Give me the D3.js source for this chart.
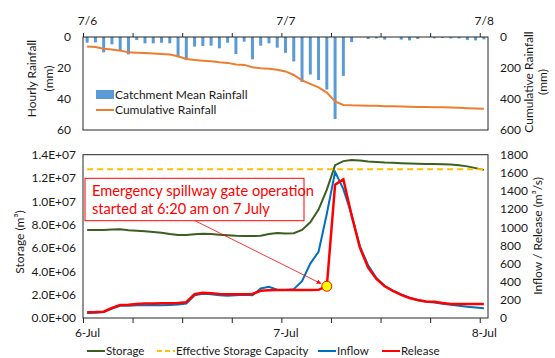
<!DOCTYPE html>
<html><head><meta charset="utf-8">
<script src="https://cdn.jsdelivr.net/npm/d3@7"></script>
<style>
body{margin:0;background:#fff;}
svg{font-family:Lato,"Open Sans",sans-serif;}
</style></head><body>
<svg id="c" width="555" height="358"></svg>
<script>
// ---------- data ----------
const topDayLabels = ["7/6","7/7","7/8"];
const bottomDayLabels = ["6-Jul","7-Jul","8-Jul"];
const rainTicks = [0,20,40,60];
const cumTicks = [0,200,400,600];
const storageTicks = [0,2e6,4e6,6e6,8e6,1e7,1.2e7,1.4e7];
const flowTicks = [0,200,400,600,800,1000,1200,1400,1600,1800];
// hourly values, 7/6 00:30 ... 7/8 00:30
const hourlyRain = [3.7,3.5,9.9,4.7,8.8,11.2,1.9,4.1,4.1,3.7,4.1,13.1,14.8,6.2,5.8,5.6,7.3,3.7,11,3,14.4,5.6,4.1,6.9,
  10.2,15.8,29,24.2,27.8,33.9,52.9,25.1,3.3,0,1.3,0.9,1.7,0,1.7,2.2,1.3,0,0.9,0.6,0.9,0.9,1.9,2.2,1.5];
const cumRain = [62,65,76,80,88,99,101,104,107,110,113,124,142,148,153,157,163,167,177,180,195,201,205,212,
  222,245,280,302,325,359,415,438,441,442,443,444,446,447,448,450,451,452,453,454,455,457,459,461,463];
const storage = [7.55e6,7.55e6,7.55e6,7.58e6,7.6e6,7.52e6,7.48e6,7.43e6,7.38e6,7.3e6,7.2e6,7.12e6,7.12e6,7.18e6,7.23e6,7.2e6,7.14e6,7.1e6,7.05e6,7.03e6,7.02e6,7.05e6,7.2e6,7.28e6,
  7.25e6,7.27e6,7.55e6,8.2e6,9.3e6,1.1e7,1.31e7,1.345e7,1.355e7,1.35e7,1.342e7,1.338e7,1.333e7,1.33e7,1.327e7,1.325e7,1.322e7,1.32e7,1.32e7,1.318e7,1.315e7,1.31e7,1.3e7,1.285e7,1.27e7];
const inflow = [55,58,65,105,135,135,140,140,142,140,143,148,160,250,268,262,250,245,250,255,250,325,345,312,
  308,318,405,600,730,1150,1610,1420,1140,790,580,440,355,300,260,225,195,180,170,157,147,135,125,115,107];
const release = [63,65,70,110,143,145,155,160,160,162,162,165,175,262,278,272,265,262,262,262,265,300,305,308,
  308,308,308,308,310,350,1470,1530,1130,775,555,430,350,300,255,220,198,183,178,165,155,154,154,154,154];
const capacity = 1.275e7;
const gateIndex = 29; // 7/7 06:20 release start

// ---------- layout ----------
const svg = d3.select("#c");
const L = 83, R = 488;
const t0 = new Date(2018,6,6,0,0), t1 = new Date(2018,6,8,1,0);
const times = hourlyRain.map((d,i)=>new Date(2018,6,6,0,30+60*i));
const x = d3.scaleTime().domain([t0,t1]).range([L,R]);
const dayTicks = d3.timeHour.every(6).range(t0, t1);

const TT = 37, TB = 130;
const yRain = d3.scaleLinear().domain([0,60]).range([TT,TB]);
const yCum = d3.scaleLinear().domain([0,600]).range([TT,TB]);
const BT = 154.7, BB = 318;
const yS = d3.scaleLinear().domain([0,1.4e7]).range([BB,BT]);
const yF = d3.scaleLinear().domain([0,1800]).range([BB,BT]);

const txt = "#1a1a1a", axc = "#262626";
const fs = "12px";

function dayFmt(labels){ return d=>{ if(d.getHours()!==0) return ""; return labels[d.getDate()-6]||""; }; }
function sci(v){ if(v===0) return "0.0E+00"; const e=Math.floor(Math.log10(v)); const m=v/Math.pow(10,e); return m.toFixed(1)+"E+"+String(e).padStart(2,"0"); }

function styleAxis(g){ g.select(".domain").remove(); g.selectAll("line").attr("stroke",axc); g.selectAll("text").attr("fill",txt).style("font-size",fs).style("font-family","Lato"); }

// ---------- top panel ----------
svg.append("g").selectAll("rect").data(hourlyRain).join("rect")
  .attr("x",(d,i)=>x(times[i])-1.5).attr("width",3)
  .attr("y",TT).attr("height",d=>yRain(d)-TT).attr("fill","#5B9BD5");
svg.append("path").datum(cumRain).attr("fill","none").attr("stroke","#ED7D31").attr("stroke-width",2)
  .attr("d",d3.line().x((d,i)=>x(times[i])).y(d=>yCum(d)));
svg.append("rect").attr("x",L).attr("y",TT).attr("width",R-L).attr("height",TB-TT).attr("fill","none").attr("stroke",axc).attr("stroke-width",1);
svg.append("g").attr("transform",`translate(0,${TT})`)
  .call(d3.axisTop(x).tickValues(dayTicks).tickSize(4).tickPadding(8).tickFormat(dayFmt(topDayLabels)))
  .call(styleAxis).selectAll("text").attr("dx",4);
svg.append("g").attr("transform",`translate(${L},0)`)
  .call(d3.axisLeft(yRain).tickValues(rainTicks).tickSize(0).tickPadding(12)).call(styleAxis);
svg.append("g").attr("transform",`translate(${R},0)`)
  .call(d3.axisRight(yCum).tickValues(cumTicks).tickSize(0).tickPadding(12)).call(styleAxis);

function vtitle(x0,y0,s){ svg.append("text").attr("transform",`translate(${x0},${y0}) rotate(-90)`)
  .attr("text-anchor","middle").attr("dy","0.35em").attr("fill",txt).style("font-size",fs).text(s); }
vtitle(32,78.5,"Hourly Rainfall"); vtitle(49,78.5,"(mm)");
vtitle(529,82,"Cumulative Rainfall"); vtitle(543,82,"(mm)");

// top legend
svg.append("rect").attr("x",96).attr("y",90).attr("width",18).attr("height",9).attr("fill","#5B9BD5");
svg.append("text").attr("x",115).attr("y",94.5).attr("dy","0.35em").attr("fill",txt).style("font-size",fs).text("Catchment Mean Rainfall");
svg.append("line").attr("x1",96).attr("x2",114).attr("y1",110).attr("y2",110).attr("stroke","#ED7D31").attr("stroke-width",2);
svg.append("text").attr("x",115).attr("y",110).attr("dy","0.35em").attr("fill",txt).style("font-size",fs).text("Cumulative Rainfall");

// ---------- bottom panel ----------
const lineS = d3.line().x((d,i)=>x(times[i])).y(d=>yS(d));
const lineF = d3.line().x((d,i)=>x(times[i])).y(d=>yF(d));
svg.append("path").datum(storage).attr("fill","none").attr("stroke","#3B5E21").attr("stroke-width",2).attr("d",lineS);
svg.append("line").attr("x1",x(times[0])).attr("x2",x(times[times.length-1])).attr("y1",yS(capacity)).attr("y2",yS(capacity))
  .attr("stroke","#FFC000").attr("stroke-width",2).attr("stroke-dasharray","6,4");
svg.append("path").datum(inflow).attr("fill","none").attr("stroke","#0070C0").attr("stroke-width",2).attr("d",lineF);
svg.append("path").datum(release).attr("fill","none").attr("stroke","#FF0000").attr("stroke-width",2.5).attr("d",lineF);
svg.append("rect").attr("x",L).attr("y",BT).attr("width",R-L).attr("height",BB-BT).attr("fill","none").attr("stroke",axc).attr("stroke-width",1);
svg.append("g").attr("transform",`translate(0,${BB})`)
  .call(d3.axisBottom(x).tickValues(dayTicks).tickSize(5).tickPadding(5).tickFormat(dayFmt(bottomDayLabels)))
  .call(styleAxis).selectAll("text").attr("dx",4);
svg.append("g").attr("transform",`translate(${L},0)`)
  .call(d3.axisLeft(yS).tickValues(storageTicks).tickSize(0).tickPadding(7).tickFormat(sci)).call(styleAxis);
svg.append("g").attr("transform",`translate(${R},0)`)
  .call(d3.axisRight(yF).tickValues(flowTicks).tickSize(0).tickPadding(12).tickFormat(d3.format("d"))).call(styleAxis);
vtitle(20,242,"Storage (m³)");
vtitle(538,236,"Inflow / Release (m³/s)");

// annotation
const gx = x(times[gateIndex]), gy = yF(release[gateIndex]);
svg.append("defs").append("marker").attr("id","ah").attr("viewBox","0 0 10 10").attr("refX",10).attr("refY",5)
  .attr("markerWidth",6).attr("markerHeight",6).attr("orient","auto")
  .append("path").attr("d","M0,0L10,5L0,10z").attr("fill","#FF0000");
svg.append("line").attr("x1",195).attr("y1",220.7).attr("x2",gx-5.5).attr("y2",gy-2.5)
  .attr("stroke","#FF0000").attr("stroke-width",0.8).attr("marker-end","url(#ah)");
svg.append("rect").attr("x",85).attr("y",178.3).attr("width",219).attr("height",42.4).attr("fill","#fff").attr("stroke","#FF0000").attr("stroke-width",1);
const ann = svg.append("text").attr("fill","#FF0000").style("font-size","14.6px").style("font-family","Lato");
ann.append("tspan").attr("x",92).attr("y",195.8).text("Emergency spillway gate operation");
ann.append("tspan").attr("x",92).attr("y",213.5).text("started at 6:20 am on 7 July");
svg.append("circle").attr("cx",gx).attr("cy",gy).attr("r",5).attr("fill","#FFFF00").attr("stroke","#FF0000").attr("stroke-width",1);

// bottom legend
const legend = [
  {name:"Storage", color:"#3B5E21", dash:null, x1:87},
  {name:"Effective Storage Capacity", color:"#FFC000", dash:"5,3", x1:157},
  {name:"Inflow", color:"#0070C0", dash:null, x1:318},
  {name:"Release", color:"#FF0000", dash:null, x1:382}
];
const lg = svg.append("g").selectAll("g").data(legend).join("g");
lg.append("line").attr("x1",d=>d.x1).attr("x2",d=>d.x1+18).attr("y1",351).attr("y2",351)
  .attr("stroke",d=>d.color).attr("stroke-width",2).attr("stroke-dasharray",d=>d.dash);
lg.append("text").attr("x",d=>d.x1+19).attr("y",351).attr("dy","0.35em").attr("fill",txt).style("font-size","11.5px").text(d=>d.name);
</script></body></html>
